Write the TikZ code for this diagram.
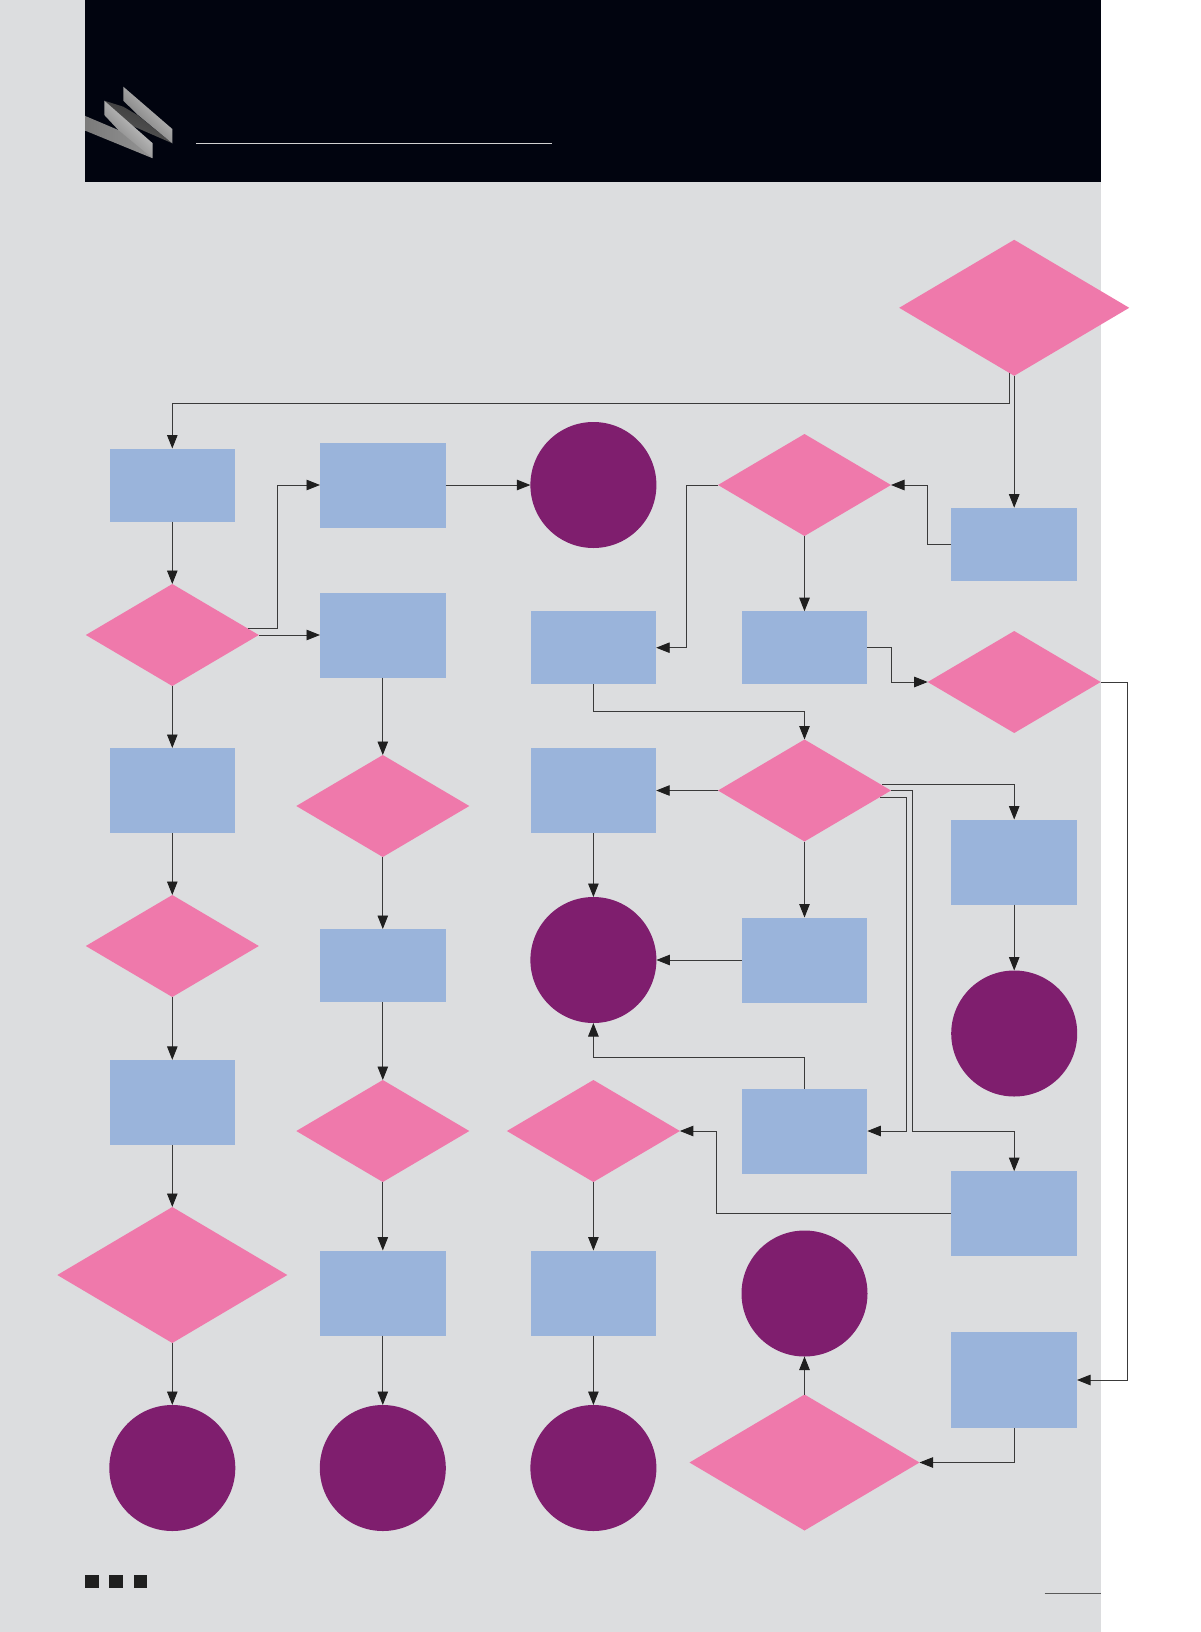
\documentclass[tikz,border=0pt]{standalone}
\usetikzlibrary{shapes.geometric,arrows.meta}
\definecolor{pagegrey}{HTML}{DCDDDF}
\definecolor{headblack}{HTML}{01040F}
\definecolor{pinkfill}{HTML}{EF79AB}
\definecolor{bluefill}{HTML}{9AB4DB}
\definecolor{purplefill}{HTML}{7F1E6E}
\definecolor{linecol}{HTML}{3A3A3A}
\tikzset{
  boxbase/.style={rectangle,fill=bluefill,draw=none,inner sep=0pt,outer sep=0pt,minimum width=125.6pt},
  boxs/.style={boxbase,minimum height=73pt},
  boxm/.style={boxbase,minimum height=85pt},
  boxl/.style={boxbase,minimum height=96pt},
  diabase/.style={diamond,fill=pinkfill,draw=none,inner sep=0pt,outer sep=0pt},
  dias/.style={diabase,minimum width=173pt,minimum height=102pt},
  dial/.style={diabase,minimum width=230pt,minimum height=136pt},
  endcirc/.style={circle,fill=purplefill,draw=none,inner sep=0pt,outer sep=0pt,minimum size=126pt},
  conn/.style={draw=linecol,line width=0.9pt,-{Triangle[length=13.5pt,width=10.5pt,color=black!88]}},
  sq/.style={rectangle,fill=black!88,draw=none,inner sep=0pt,outer sep=0pt,minimum size=13.5pt}
}
\begin{document}
\begin{tikzpicture}[x=1pt,y=-1pt]
\useasboundingbox (0,0) rectangle (1200,1632);
\fill[white] (0,0) rectangle (1200,1632);
\fill[pagegrey] (0,0) rectangle (1100.7,1632);
\fill[headblack] (85,0) rectangle (1100.7,182);
% logo
\shade[left color=black!78,right color=black!65,shading angle=-20] (104.3,100.7) -- (123.3,106.7) -- (137.3,115) -- (172.3,143.3) -- (119,120) -- cycle;
\shade[left color=black!18,right color=black!60,shading angle=-45] (123.3,86.7) -- (172.3,129) -- (172.3,143.3) -- (138,115) -- (123.3,100.7) -- cycle;
\shade[left color=black!52,right color=black!42] (85.3,116) -- (118.3,130) -- (152.7,143.3) -- (152.7,158.3) -- (85.3,130.7) -- cycle;
\shade[left color=black!15,right color=black!55,shading angle=-45] (104.3,100.7) -- (152.7,143.3) -- (152.7,158.3) -- (118.3,130) -- (104.3,115) -- cycle;
\coordinate (ruleA) at (196,143.5);
\coordinate (ruleB) at (552,143.5);
\draw[black!18,line width=1.1pt] (ruleA) -- (ruleB);
% footer
\node[sq] (sqA) at (91.8,1581.5) {};
\node[sq] (sqB) at (116,1581.5) {};
\node[sq] (sqC) at (140.5,1581.5) {};
\coordinate (footA) at (1044.5,1593.7);
\coordinate (footB) at (1100.7,1593.7);
\draw[black!65,line width=1.1pt] (footA) -- (footB);
% column 1
\node[boxs] (a1) at (172.3,485) {};
\node[dias] (a2) at (172.3,635) {};
\node[boxm] (a3) at (172.3,790.5) {};
\node[dias] (a4) at (172.3,946) {};
\node[boxm] (a5) at (172.3,1102.3) {};
\node[dial] (a6) at (172.3,1275) {};
\node[endcirc] (a7) at (172.3,1468) {};
% column 2
\node[boxm] (b1) at (382.8,485) {};
\node[boxm] (b2) at (382.8,635) {};
\node[dias] (b3) at (382.8,806) {};
\node[boxs] (b4) at (382.8,965.5) {};
\node[dias] (b5) at (382.8,1131) {};
\node[boxm] (b6) at (382.8,1293) {};
\node[endcirc] (b7) at (382.8,1468) {};
% column 3
\node[endcirc] (c1) at (593.4,485) {};
\node[boxs] (c2) at (593.4,647.7) {};
\node[boxm] (c3) at (593.4,790.5) {};
\node[endcirc] (c4) at (593.4,960) {};
\node[dias] (c5) at (593.4,1131) {};
\node[boxm] (c6) at (593.4,1293) {};
\node[endcirc] (c7) at (593.4,1468) {};
% column 4
\node[dias] (d1) at (804.5,485) {};
\node[boxs] (d2) at (804.5,647.7) {};
\node[dias] (d3) at (804.5,790.5) {};
\node[boxm] (d4) at (804.5,960) {};
\node[boxm] (d5) at (804.5,1131) {};
\node[endcirc] (d6) at (804.5,1293.5) {};
\node[dial] (d7) at (804.5,1462.5) {};
% column 5
\node[dial] (e0) at (1014.2,307.8) {};
\node[boxs] (e1) at (1014.2,544.2) {};
\node[dias] (e2) at (1014.2,682) {};
\node[boxm] (e3) at (1014.2,862) {};
\node[endcirc] (e4) at (1014.2,1033.5) {};
\node[boxm] (e5) at (1014.2,1213.7) {};
\node[boxl] (e6) at (1014.2,1380) {};
% free ends
\coordinate (e0s) at (1009,372.6);
\coordinate (a2s) at (248,628.5);
\coordinate (d3u) at (882,784.3);
\coordinate (d3l) at (880,797);
% connectors
\draw[conn] (e0.south) -- (e1.north);
\draw[conn] (e0s) -- (1009,403.8) -| (a1.north);
\draw[conn] (a1.south) -- (a2.north);
\draw[conn] (a2s) -- (277,628.5) |- (b1.west);
\draw[conn] (a2.east) -- (b2.west);
\draw[conn] (a2.south) -- (a3.north);
\draw[conn] (a3.south) -- (a4.north);
\draw[conn] (a4.south) -- (a5.north);
\draw[conn] (a5.south) -- (a6.north);
\draw[conn] (a6.south) -- (a7.north);
\draw[conn] (b1.east) -- (c1.west);
\draw[conn] (b2.south) -- (b3.north);
\draw[conn] (b3.south) -- (b4.north);
\draw[conn] (b4.south) -- (b5.north);
\draw[conn] (b5.south) -- (b6.north);
\draw[conn] (b6.south) -- (b7.north);
\draw[conn] (e1.west) -- (927.5,544.2) |- (d1.east);
\draw[conn] (d1.west) -- (686,485) |- (c2.east);
\draw[conn] (d1.south) -- (d2.north);
\draw[conn] (d2.east) -- (891,647.7) |- (e2.west);
\draw[conn] (e2.east) -- (1127.2,682) |- (e6.east);
\draw[conn] (e6.south) |- (d7.east);
\draw[conn] (d7.north) -- (d6.south);
\draw[conn] (c2.south) -- (593.4,711.2) -| (d3.north);
\draw[conn] (d3.west) -- (c3.east);
\draw[conn] (d3.south) -- (d4.north);
\draw[conn] (c3.south) -- (c4.north);
\draw[conn] (d4.west) -- (c4.east);
\draw[conn] (d3u) -| (e3.north);
\draw[conn] (e3.south) -- (e4.north);
\draw[conn] (d3.east) -- (912.5,790.5) |- (1014.2,1131) -- (e5.north);
\draw[conn] (d3l) -- (906.5,797) |- (d5.east);
\draw[conn] (d5.north) -- (804.5,1057.5) -| (c4.south);
\draw[conn] (e5.west) -- (716,1213.7) |- (c5.east);
\draw[conn] (c5.south) -- (c6.north);
\draw[conn] (c6.south) -- (c7.north);
\end{tikzpicture}
\end{document}
